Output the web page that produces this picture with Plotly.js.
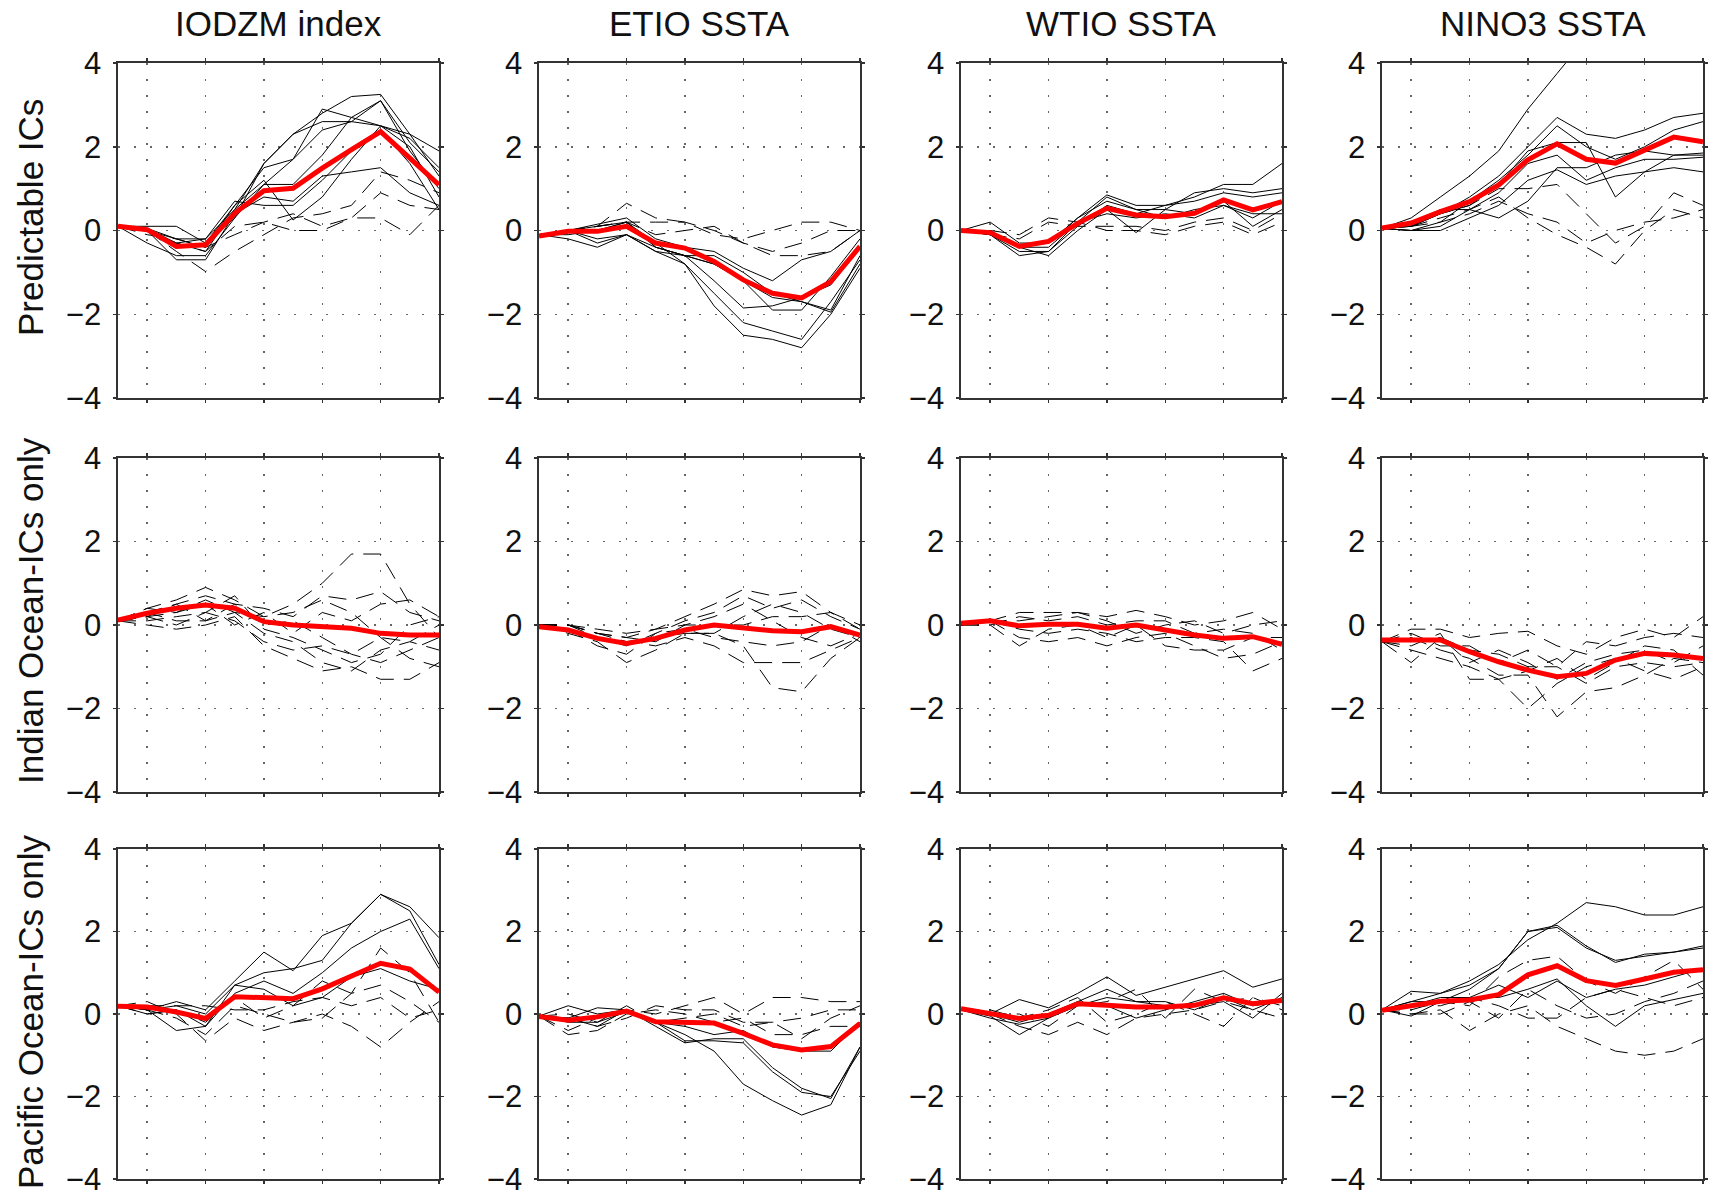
<!DOCTYPE html>
<html>
<head>
<meta charset="utf-8">
<script src="https://cdn.plot.ly/plotly-3.0.1.min.js"></script>
<style>html,body{margin:0;padding:0;background:#fff;}#chart{width:1713px;height:1199px;}</style>
</head>
<body>
<div id="chart"></div>
<script>
// ---------------- DATA ----------------
const months = [0,1,2,3,4,5,6,7,8,9,10,11];
const colTitles = ["IODZM index", "ETIO SSTA", "WTIO SSTA", "NINO3 SSTA"];
const rowTitles = ["Predictable ICs", "Indian Ocean-ICs only", "Pacific Ocean-ICs only"];
const yTicks = [-4, -2, 0, 2, 4];
const xTicks = [1, 3, 5, 7, 9, 11];

// Row 1: Predictable ICs
const iodPredMean = [0.1, 0.02, -0.38, -0.34, 0.41, 0.95, 1.01, 1.49, 1.93, 2.36, 1.73, 1.09];
const iodPredSolid = [
  [0.1, 0.05, -0.3, -0.2, 0.5, 1.6, 2.3, 2.8, 3.2, 3.25, 2.3, 1.9],
  [0.1, 0.05, -0.2, -0.4, 0.6, 1.5, 1.7, 2.4, 2.6, 3.1, 2.1, 1.4],
  [0.1, -0.3, -0.6, -0.6, 0.3, 1.1, 1.7, 2.9, 2.7, 2.5, 2.2, 1.5],
  [0.1, 0.1, 0.1, -0.3, 0.3, 1.6, 2.3, 2.6, 2.6, 2.5, 2.3, 1.3],
  [0.1, 0.0, -0.7, -0.7, 0.4, 0.8, 0.7, 1.3, 1.4, 1.5, 0.9, 0.6],
  [0.1, 0.0, -0.3, -0.5, 0.5, 1.1, 1.1, 1.8, 2.7, 3.1, 1.9, 1.0],
  [0.1, 0.0, -0.4, -0.3, 0.6, 1.2, 0.25, 0.8, 1.7, 2.5, 2.0, 0.8],
  [0.1, 0.0, -0.2, -0.2, 0.7, 0.6, 0.6, 1.2, 1.9, 2.4, 1.6, 0.5]
];
const iodPredDashed = [
  [0.1, 0.0, -0.5, -0.98, -0.5, -0.1, 0.3, 0.4, 0.6, 1.4, 1.2, 0.9],
  [0.1, 0.0, -0.3, -0.5, 0.1, 0.2, 0.0, 0.0, 0.3, 0.9, 0.6, 0.5],
  [0.1, -0.1, -0.2, -0.4, -0.1, 0.2, 0.4, 0.1, 0.3, 0.3, -0.1, 0.6]
];

const etioPredMean = [-0.13, -0.02, -0.02, 0.1, -0.3, -0.42, -0.74, -1.18, -1.5, -1.61, -1.22, -0.38];
const etioPredSolid = [
  [-0.1, 0.0, 0.15, 0.3, -0.2, -0.4, -0.5, -0.9, -1.2, -0.7, -0.5, 0.0],
  [-0.1, 0.0, -0.3, -0.1, -0.4, -0.6, -0.6, -1.0, -1.5, -1.7, -1.9, -0.6],
  [-0.1, -0.1, 0.0, 0.2, -0.3, -0.8, -1.8, -2.5, -2.6, -2.8, -2.0, -0.9],
  [-0.1, -0.2, -0.4, -0.1, -0.5, -0.8, -1.5, -2.2, -2.4, -2.6, -1.7, -0.7],
  [-0.1, 0.0, 0.0, 0.2, -0.4, -0.6, -1.2, -1.85, -1.8, -1.6, -1.3, -0.4],
  [-0.1, 0.0, -0.2, -0.1, -0.5, -0.6, -0.8, -1.2, -1.9, -1.9, -1.1, -0.2],
  [-0.1, 0.0, 0.1, 0.2, -0.4, -0.6, -0.8, -1.2, -1.6, -1.7, -1.95, -0.8]
];
const etioPredDashed = [
  [-0.1, 0.0, 0.1, 0.65, 0.3, 0.2, -0.1, -0.2, 0.0, 0.2, 0.2, 0.0],
  [-0.1, 0.0, 0.1, 0.2, 0.2, 0.2, 0.0, -0.3, -0.5, -0.3, 0.0, 0.0],
  [-0.1, 0.0, 0.1, 0.2, -0.1, 0.0, 0.1, -0.3, -0.6, -0.6, -0.5, 0.0]
];

const wtioPredMean = [0.0, -0.05, -0.38, -0.26, 0.17, 0.53, 0.37, 0.33, 0.41, 0.73, 0.49, 0.69];
const wtioPredSolid = [
  [0.0, 0.2, -0.3, -0.3, 0.3, 0.85, 0.6, 0.6, 0.8, 1.1, 1.1, 1.6],
  [0.0, -0.1, -0.5, -0.5, 0.2, 0.8, 0.5, 0.5, 0.9, 1.0, 0.9, 1.0],
  [0.0, -0.1, -0.6, -0.5, 0.1, 0.6, 0.4, 0.6, 0.7, 0.9, 0.8, 0.9],
  [0.0, -0.05, -0.4, -0.6, 0.0, 0.5, -0.05, 0.5, 0.4, 0.7, 0.1, 0.5],
  [0.0, 0.0, -0.4, -0.4, 0.2, 0.4, 0.3, 0.4, 0.3, 0.6, 0.4, 0.4],
  [0.0, -0.1, -0.4, -0.3, 0.3, 0.7, 0.5, 0.3, 0.5, 0.6, 0.3, 0.7]
];
const wtioPredDashed = [
  [0.0, 0.0, -0.1, 0.3, 0.2, 0.0, 0.0, -0.1, 0.1, 0.2, -0.1, 0.2],
  [0.0, -0.1, -0.2, 0.2, 0.1, 0.1, 0.1, 0.0, 0.2, 0.3, 0.0, 0.4]
];

const ninoPredMean = [0.06, 0.18, 0.45, 0.69, 1.09, 1.69, 2.07, 1.7, 1.61, 1.93, 2.23, 2.12];
const ninoPredSolid = [
  [0.05, 0.3, 0.8, 1.3, 1.9, 2.9, 3.75, 4.6, 4.9, 5.1, 5.3, 5.4],
  [0.05, 0.1, 0.4, 0.8, 1.3, 2.0, 2.7, 2.3, 2.2, 2.4, 2.7, 2.8],
  [0.05, 0.0, 0.2, 0.7, 1.2, 1.8, 2.5, 2.0, 1.7, 2.0, 2.4, 2.6],
  [0.05, 0.1, 0.4, 0.6, 1.1, 1.9, 2.1, 2.1, 0.8, 1.4, 1.8, 1.8],
  [0.05, 0.0, 0.1, 0.5, 0.9, 1.6, 1.8, 1.2, 1.5, 1.7, 1.7, 1.75],
  [0.05, 0.0, 0.0, 0.3, 0.6, 1.2, 1.45, 1.1, 1.3, 1.4, 1.5, 1.4],
  [0.05, 0.1, 0.5, 0.5, 0.3, 0.7, 1.5, 1.5, 1.8, 1.9, 1.8, 1.85]
];
const ninoPredDashed = [
  [0.05, 0.2, 0.4, 0.6, 1.0, 1.0, 1.1, 0.4, -0.3, 0.1, 0.9, 0.6],
  [0.05, 0.1, 0.3, 0.5, 0.8, 0.3, -0.1, -0.4, -0.8, 0.0, 0.5, 0.3],
  [0.05, 0.1, 0.2, 0.4, 0.7, 0.4, 0.2, -0.3, 0.0, 0.2, 0.3, 0.5]
];

// Row 2: Indian Ocean-ICs only
const iodIndMean = [0.12, 0.28, 0.4, 0.48, 0.4, 0.08, 0.0, -0.04, -0.08, -0.2, -0.24, -0.24];
const iodIndSolid = [];
const iodIndDashed = [
  [0.1, 0.4, 0.6, 0.9, 0.6, 0.2, 0.5, 1.0, 1.7, 1.7, 0.5, -0.3],
  [0.1, 0.2, 0.5, 0.7, 0.5, 0.4, 0.2, 0.7, 0.6, 0.8, 0.3, 0.1],
  [0.1, 0.3, 0.1, 0.1, 0.3, -0.2, -0.4, -0.9, -1.1, -0.6, -0.4, -0.6],
  [0.1, 0.0, -0.1, 0.0, 0.2, -0.5, -0.8, -1.1, -1.0, -1.3, -1.3, -0.9],
  [0.1, 0.4, 0.3, 0.6, 0.3, 0.2, 0.3, 0.6, 0.3, -0.3, -0.8, -1.0],
  [0.1, 0.2, 0.0, 0.3, 0.7, -0.1, -0.3, -0.6, -0.9, -0.7, 0.0, 0.2],
  [0.1, 0.3, 0.5, 0.1, 0.5, 0.0, 0.1, -0.3, -0.7, -0.9, -0.6, -0.3],
  [0.1, 0.2, 0.3, 0.5, 0.0, 0.3, -0.2, 0.3, 0.1, 0.5, 0.6, 0.2],
  [0.1, 0.1, 0.2, 0.3, 0.1, -0.4, -0.6, -0.5, -0.7, -0.3, -0.4, 0.0]
];

const etioIndMean = [-0.04, -0.12, -0.32, -0.44, -0.32, -0.12, 0.0, -0.08, -0.14, -0.16, -0.04, -0.24];
const etioIndSolid = [];
const etioIndDashed = [
  [0.0, 0.0, -0.2, -0.3, -0.1, 0.2, 0.5, 0.85, 0.7, 0.8, 0.3, 0.0],
  [0.0, 0.0, -0.3, -0.5, -0.2, 0.1, 0.3, 0.7, 0.4, 0.6, 0.2, -0.1],
  [0.0, -0.2, -0.4, -0.9, -0.6, -0.2, -0.2, -0.5, -1.5, -1.6, -0.8, -0.3],
  [0.0, -0.1, -0.3, -0.4, -0.5, -0.3, -0.5, -0.9, -0.9, -0.9, -0.6, -0.3],
  [0.0, 0.0, -0.2, -0.3, -0.4, 0.0, 0.2, 0.5, 0.1, -0.3, -0.5, -0.2],
  [0.0, -0.1, -0.5, -0.7, -0.2, -0.1, -0.3, -0.4, -0.5, -0.4, 0.0, -0.4],
  [0.0, 0.0, -0.1, -0.2, -0.1, 0.0, 0.0, 0.0, 0.2, 0.2, 0.3, -0.1],
  [0.0, 0.0, -0.2, -0.4, -0.3, -0.2, -0.2, 0.2, 0.5, 0.3, -0.1, -0.3]
];

const wtioIndMean = [0.04, 0.1, -0.02, 0.02, 0.02, -0.08, 0.0, -0.12, -0.24, -0.32, -0.28, -0.46];
const wtioIndSolid = [];
const wtioIndDashed = [
  [0.0, 0.1, 0.3, 0.3, 0.3, 0.2, 0.35, 0.2, 0.0, 0.1, 0.3, -0.1],
  [0.0, 0.1, -0.3, -0.4, -0.3, -0.5, -0.3, -0.2, -0.5, -0.8, -0.7, -0.4],
  [0.0, 0.0, 0.2, 0.1, 0.2, 0.0, 0.1, 0.1, -0.2, -0.1, -0.2, -0.6],
  [0.0, 0.1, -0.1, -0.2, -0.1, -0.2, -0.4, -0.3, -0.3, -0.4, -1.1, -0.8],
  [0.0, 0.0, -0.5, -0.1, 0.0, -0.3, 0.0, -0.5, -0.6, -0.6, -0.3, -0.3],
  [0.0, 0.1, 0.1, 0.2, 0.3, 0.1, -0.2, 0.0, 0.1, -0.2, 0.0, 0.1]
];

const ninoIndMean = [-0.36, -0.36, -0.36, -0.64, -0.88, -1.08, -1.24, -1.16, -0.84, -0.68, -0.72, -0.8];
const ninoIndSolid = [];
const ninoIndDashed = [
  [-0.4, -0.1, -0.1, -0.3, -0.2, -0.15, -0.5, -0.7, -0.3, -0.1, -0.3, 0.2],
  [-0.4, -0.6, -0.8, -1.0, -1.3, -2.0, -1.4, -1.0, -0.8, -1.1, -1.3, -1.0],
  [-0.4, -0.3, -0.6, -0.8, -1.2, -1.2, -2.2, -1.6, -1.5, -1.2, -0.8, -0.9],
  [-0.4, -0.5, -0.2, -1.3, -1.3, -1.1, -0.8, -1.3, -0.9, -0.5, -0.6, -1.2],
  [-0.4, -0.2, -0.5, -0.5, -0.9, -0.6, -1.0, -0.4, -0.5, -0.3, -0.2, -0.3],
  [-0.4, -0.4, -0.3, -0.6, -0.7, -1.0, -1.0, -1.4, -1.0, -0.9, -1.0, -0.9],
  [-0.4, -0.9, -0.3, -0.9, -0.6, -0.9, -1.3, -0.9, -0.7, -0.6, -0.9, -0.5]
];

// Row 3: Pacific Ocean-ICs only
const iodPacMean = [0.19, 0.17, 0.05, -0.11, 0.42, 0.39, 0.37, 0.61, 0.93, 1.23, 1.09, 0.53];
const iodPacSolid = [
  [0.2, 0.1, 0.3, 0.1, 0.8, 1.5, 1.05, 1.9, 2.2, 2.9, 2.6, 1.85],
  [0.2, 0.0, 0.1, -0.3, 0.7, 1.0, 1.1, 1.3, 2.2, 2.9, 2.5, 1.2],
  [0.2, 0.1, -0.4, -0.3, 0.5, 0.8, 0.5, 1.0, 1.6, 2.0, 2.3, 1.1],
  [0.2, 0.1, 0.2, 0.0, 0.7, 0.6, 0.2, 0.4, 0.9, 1.1, 0.8, 0.6]
];
const iodPacDashed = [
  [0.2, 0.3, 0.0, -0.65, -0.1, -0.4, -0.2, 0.0, -0.3, -0.8, -0.2, 0.3],
  [0.2, 0.1, -0.1, -0.5, 0.2, 0.0, -0.2, -0.1, 0.5, 1.6, 1.0, -0.2],
  [0.2, 0.2, 0.2, 0.2, 0.1, 0.1, 0.3, 0.4, 0.2, 0.4, -0.1, 0.1],
  [0.2, 0.0, 0.1, -0.2, 0.4, -0.1, 0.2, 0.8, 0.5, 0.7, 0.3, -0.2]
];

const etioPacMean = [-0.06, -0.15, -0.07, 0.07, -0.19, -0.22, -0.22, -0.47, -0.75, -0.87, -0.79, -0.23];
const etioPacSolid = [
  [-0.05, 0.2, 0.0, 0.1, -0.3, -0.7, -0.6, -0.6, -1.3, -1.8, -2.05, -0.8],
  [-0.05, -0.1, 0.15, 0.1, -0.2, -0.65, -0.65, -0.7, -1.4, -1.9, -2.0, -0.9],
  [-0.05, -0.1, -0.3, 0.1, -0.2, -0.5, -0.9, -1.7, -2.1, -2.45, -2.2, -0.8],
  [-0.05, -0.2, -0.2, 0.05, -0.2, -0.3, -0.5, -0.4, -0.8, -0.9, -0.9, -0.2]
];
const etioPacDashed = [
  [-0.05, -0.4, -0.1, 0.1, 0.0, 0.2, 0.4, 0.0, 0.4, 0.4, 0.3, 0.3],
  [-0.05, -0.1, -0.3, -0.1, 0.2, 0.1, 0.1, -0.2, -0.2, -0.1, 0.1, 0.1],
  [-0.05, -0.5, -0.4, 0.0, 0.1, 0.0, -0.2, -0.1, -0.5, -0.5, -0.3, -0.3],
  [-0.05, 0.0, -0.2, 0.2, -0.2, -0.1, 0.0, -0.3, -0.2, -0.6, -0.1, 0.2]
];

const wtioPacMean = [0.13, 0.01, -0.11, -0.03, 0.25, 0.21, 0.17, 0.17, 0.21, 0.39, 0.25, 0.33];
const wtioPacSolid = [
  [0.1, 0.0, 0.35, 0.15, 0.5, 0.9, 0.45, 0.65, 0.85, 1.05, 0.65, 0.85],
  [0.1, 0.0, -0.2, 0.0, 0.3, 0.6, 0.3, 0.3, 0.1, 0.4, 0.1, 0.4],
  [0.1, -0.1, -0.25, -0.1, 0.3, 0.2, -0.1, 0.1, 0.3, 0.5, 0.2, 0.3],
  [0.1, -0.05, -0.5, -0.1, 0.2, 0.4, 0.3, 0.2, 0.2, 0.3, -0.1, 0.5]
];
const wtioPacDashed = [
  [0.1, 0.0, -0.3, -0.5, -0.2, -0.5, -0.1, 0.0, 0.1, 0.3, 0.4, 0.1],
  [0.1, 0.0, 0.0, -0.3, 0.2, 0.3, 0.6, -0.1, 0.6, 0.3, 0.1, -0.1],
  [0.1, 0.1, -0.1, 0.1, 0.4, -0.2, 0.0, 0.3, 0.0, -0.3, 0.4, 0.2]
];

const ninoPacMean = [0.09, 0.21, 0.31, 0.34, 0.47, 0.95, 1.17, 0.81, 0.69, 0.85, 1.01, 1.07];
const ninoPacSolid = [
  [0.1, 0.3, 0.5, 0.8, 1.2, 1.8, 2.2, 2.7, 2.6, 2.4, 2.4, 2.6],
  [0.1, 0.55, 0.5, 0.7, 1.1, 2.0, 2.15, 1.65, 1.25, 1.45, 1.5, 1.6],
  [0.1, -0.05, 0.3, 0.6, 1.1, 2.0, 2.1, 1.6, 1.3, 1.4, 1.5, 1.65],
  [0.1, 0.2, 0.4, 0.4, 0.4, 0.6, 0.85, 0.2, -0.3, 0.2, 0.35, 0.5],
  [0.1, 0.3, 0.3, 0.4, 0.7, 0.4, 0.8, 0.4, 0.6, 0.7, 0.9, 1.1]
];
const ninoPacDashed = [
  [0.1, 0.0, 0.1, -0.4, 0.0, 0.2, -0.3, -0.6, -0.9, -1.0, -0.9, -0.6],
  [0.1, 0.1, 0.3, 0.2, 0.9, 1.3, 1.4, 0.8, 0.5, 0.9, 1.3, 0.6],
  [0.1, 0.0, 0.0, 0.3, -0.1, 0.6, 0.2, -0.1, 0.0, 0.3, 0.5, 0.8],
  [0.1, 0.2, 0.2, 0.4, 0.2, -0.1, -0.1, 0.4, 0.6, 0.4, 0.2, 0.4]
];

// ---------------- BUILD ----------------
const panels = [
  [[iodPredSolid, iodPredDashed, iodPredMean], [etioPredSolid, etioPredDashed, etioPredMean],
   [wtioPredSolid, wtioPredDashed, wtioPredMean], [ninoPredSolid, ninoPredDashed, ninoPredMean]],
  [[iodIndSolid, iodIndDashed, iodIndMean], [etioIndSolid, etioIndDashed, etioIndMean],
   [wtioIndSolid, wtioIndDashed, wtioIndMean], [ninoIndSolid, ninoIndDashed, ninoIndMean]],
  [[iodPacSolid, iodPacDashed, iodPacMean], [etioPacSolid, etioPacDashed, etioPacMean],
   [wtioPacSolid, wtioPacDashed, wtioPacMean], [ninoPacSolid, ninoPacDashed, ninoPacMean]]
];

const W = 1713, H = 1199;
const colLeft = [118, 539, 961, 1382];
const panelW = 321;
const rowTop = [63, 458, 849];
const rowH = [335, 334, 330];
const rowLabelCenter = [218, 611, 1012];

const FONT = '"Liberation Sans", Arial, Helvetica, sans-serif';
const traces = [];
const layout = {
  width: W, height: H,
  margin: {l: 0, r: 0, t: 0, b: 0, pad: 0},
  paper_bgcolor: '#ffffff', plot_bgcolor: '#ffffff',
  showlegend: false,
  font: {family: FONT, color: '#111', size: 31},
  annotations: []
};

let k = 0;
for (let r = 0; r < 3; r++) {
  for (let c = 0; c < 4; c++) {
    k++;
    const xa = k === 1 ? 'x' : 'x' + k;
    const ya = k === 1 ? 'y' : 'y' + k;
    const [solid, dashed, mean] = panels[r][c];
    dashed.forEach(v => traces.push({x: months, y: v, xaxis: xa, yaxis: ya, type: 'scatter', mode: 'lines',
      line: {color: '#000', width: 1, dash: '18px,10px'}, hoverinfo: 'skip'}));
    solid.forEach(v => traces.push({x: months, y: v, xaxis: xa, yaxis: ya, type: 'scatter', mode: 'lines',
      line: {color: '#000', width: 1}, hoverinfo: 'skip'}));
    traces.push({x: months, y: mean, xaxis: xa, yaxis: ya, type: 'scatter', mode: 'lines',
      line: {color: '#ff0000', width: 5}, hoverinfo: 'skip'});

    const xd = [colLeft[c] / W, (colLeft[c] + panelW) / W];
    const yd = [1 - (rowTop[r] + rowH[r]) / H, 1 - rowTop[r] / H];
    const common = {showline: true, mirror: 'ticks', linecolor: '#333', linewidth: 1.6,
      ticks: 'outside', ticklen: 3, tickwidth: 1.5, tickcolor: '#333',
      showgrid: true, gridcolor: '#666', gridwidth: 1.5, griddash: '1.5px,14.5px', zeroline: false,
      fixedrange: true};
    layout[xa.replace('x', 'xaxis')] = Object.assign({}, common, {
      domain: xd, range: [0, 11], tickmode: 'array', tickvals: xTicks, showticklabels: false,
      anchor: ya
    });
    layout[ya.replace('y', 'yaxis')] = Object.assign({}, common, {
      domain: yd, range: [-4, 4], tickmode: 'array', tickvals: yTicks, ticktext: yTicks.map(v => v < 0 ? '\u2212' + Math.abs(v) : String(v)),
      showticklabels: true, tickfont: {family: FONT, size: 31, color: '#111'}, ticklabelstandoff: 6,
      ticklabeloverflow: 'allow', anchor: xa
    });
  }
}

colTitles.forEach((t, c) => layout.annotations.push({
  text: t, xref: 'paper', yref: 'paper', x: (colLeft[c] + panelW / 2) / W, y: 1 - 24 / H,
  xanchor: 'center', yanchor: 'middle', showarrow: false, font: {family: FONT, size: 35, color: '#111'}
}));
rowTitles.forEach((t, r) => layout.annotations.push({
  text: t, xref: 'paper', yref: 'paper', x: 30 / W, y: 1 - rowLabelCenter[r] / H,
  xanchor: 'center', yanchor: 'middle', textangle: -90, showarrow: false,
  font: {family: FONT, size: 35, color: '#111'}
}));

Plotly.newPlot('chart', traces, layout, {staticPlot: true, displayModeBar: false});
</script>
</body>
</html>
